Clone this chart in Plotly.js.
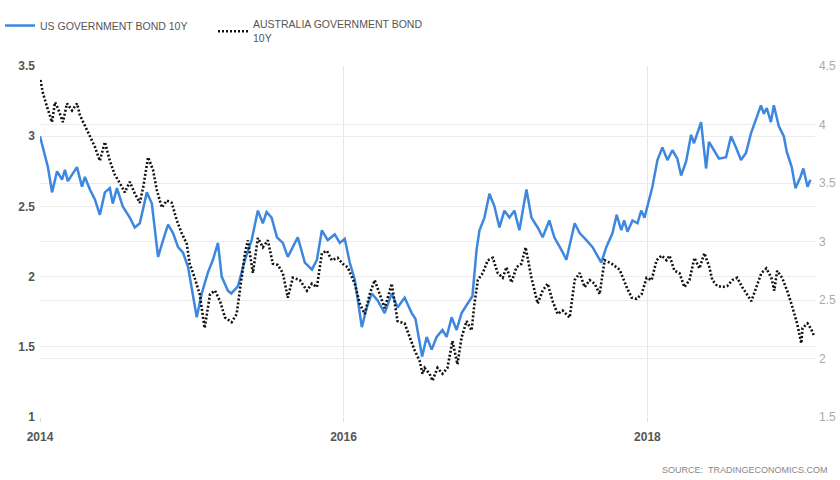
<!DOCTYPE html>
<html>
<head>
<meta charset="utf-8">
<script src="https://cdn.plot.ly/plotly-3.0.1.min.js"></script>
<style>
html,body{margin:0;padding:0;background:#fff;}
#chart{width:840px;height:480px;}
</style>
</head>
<body>
<div id="chart"></div>
<script>
// US Government Bond 10Y (left axis, %)
var usDates = ["2014-01-01","2014-01-13","2014-01-20","2014-01-30","2014-02-11","2014-02-23","2014-03-02","2014-03-09","2014-03-31","2014-04-12","2014-04-19","2014-05-01","2014-05-13","2014-05-25","2014-06-06","2014-06-18","2014-06-25","2014-07-05","2014-07-19","2014-08-05","2014-08-17","2014-08-29","2014-09-15","2014-09-27","2014-10-12","2014-10-24","2014-11-05","2014-11-17","2014-11-29","2014-12-11","2014-12-23","2015-01-13","2015-01-25","2015-02-09","2015-02-21","2015-03-05","2015-03-14","2015-03-29","2015-04-06","2015-04-22","2015-05-09","2015-05-25","2015-06-09","2015-06-21","2015-06-30","2015-07-12","2015-07-25","2015-08-08","2015-08-20","2015-09-01","2015-09-13","2015-09-30","2015-10-17","2015-10-29","2015-11-10","2015-11-24","2015-12-11","2015-12-23","2016-01-04","2016-01-16","2016-01-28","2016-02-14","2016-02-26","2016-03-09","2016-03-23","2016-04-09","2016-04-26","2016-05-10","2016-05-27","2016-06-13","2016-06-22","2016-07-01","2016-07-08","2016-07-19","2016-07-31","2016-08-12","2016-08-26","2016-09-05","2016-09-17","2016-09-29","2016-10-11","2016-10-26","2016-11-06","2016-11-16","2016-11-23","2016-12-05","2016-12-17","2016-12-29","2017-01-10","2017-01-22","2017-02-03","2017-02-15","2017-02-27","2017-03-16","2017-03-28","2017-04-12","2017-04-24","2017-05-10","2017-05-22","2017-06-08","2017-06-20","2017-07-10","2017-07-22","2017-08-07","2017-08-22","2017-09-12","2017-09-24","2017-10-09","2017-10-19","2017-10-30","2017-11-06","2017-11-14","2017-11-26","2017-12-08","2017-12-17","2017-12-25","2018-01-06","2018-01-13","2018-01-25","2018-02-06","2018-02-18","2018-03-02","2018-03-14","2018-03-23","2018-04-04","2018-04-16","2018-04-23","2018-05-10","2018-05-22","2018-05-29","2018-06-10","2018-06-22","2018-07-09","2018-07-21","2018-08-02","2018-08-14","2018-08-26","2018-09-07","2018-09-19","2018-10-01","2018-10-08","2018-10-15","2018-10-25","2018-11-01","2018-11-13","2018-11-25","2018-12-02","2018-12-14","2018-12-23","2019-01-04","2019-01-11","2019-01-21","2019-01-28"];
var usYield = [3.00,2.85,2.78,2.60,2.75,2.69,2.76,2.68,2.78,2.64,2.71,2.62,2.55,2.44,2.60,2.63,2.52,2.63,2.50,2.42,2.35,2.38,2.60,2.52,2.14,2.26,2.37,2.31,2.21,2.17,2.07,1.71,1.88,2.03,2.12,2.24,2.00,1.90,1.88,1.93,2.12,2.26,2.47,2.38,2.46,2.42,2.28,2.24,2.14,2.21,2.28,2.10,2.05,2.12,2.33,2.26,2.30,2.24,2.27,2.10,1.98,1.64,1.78,1.88,1.83,1.74,1.88,1.78,1.85,1.74,1.70,1.55,1.43,1.57,1.48,1.57,1.62,1.57,1.71,1.62,1.74,1.81,1.86,2.19,2.33,2.42,2.59,2.50,2.35,2.47,2.42,2.47,2.33,2.62,2.42,2.35,2.28,2.40,2.28,2.19,2.12,2.38,2.31,2.26,2.21,2.10,2.21,2.31,2.44,2.33,2.40,2.32,2.40,2.38,2.47,2.42,2.55,2.64,2.83,2.92,2.83,2.90,2.84,2.72,2.82,3.01,2.95,3.10,2.77,2.96,2.90,2.84,2.85,3.00,2.92,2.83,2.88,3.02,3.12,3.22,3.16,3.20,3.10,3.22,3.07,3.00,2.89,2.78,2.63,2.71,2.77,2.64,2.69];

// Australia Government Bond 10Y (right axis, %)
var auDates = ["2014-01-02","2014-01-08","2014-01-18","2014-01-30","2014-02-06","2014-02-13","2014-02-25","2014-03-07","2014-03-19","2014-03-31","2014-04-07","2014-04-19","2014-05-01","2014-05-13","2014-05-25","2014-06-06","2014-06-18","2014-06-30","2014-07-12","2014-07-24","2014-08-05","2014-08-17","2014-08-29","2014-09-06","2014-09-18","2014-09-30","2014-10-09","2014-10-21","2014-11-02","2014-11-14","2014-11-26","2014-12-08","2014-12-20","2014-12-27","2015-01-08","2015-01-20","2015-02-01","2015-02-14","2015-02-26","2015-03-10","2015-03-22","2015-04-07","2015-04-19","2015-04-27","2015-05-09","2015-05-16","2015-05-28","2015-06-09","2015-06-21","2015-07-03","2015-07-15","2015-07-27","2015-08-08","2015-08-20","2015-09-01","2015-09-18","2015-10-05","2015-10-17","2015-10-29","2015-11-10","2015-11-22","2015-12-04","2015-12-18","2015-12-30","2016-01-11","2016-01-28","2016-02-09","2016-02-21","2016-03-04","2016-03-16","2016-03-28","2016-04-09","2016-04-26","2016-05-10","2016-05-27","2016-06-08","2016-06-20","2016-07-02","2016-07-09","2016-07-14","2016-07-26","2016-08-02","2016-08-14","2016-08-26","2016-09-07","2016-09-19","2016-10-01","2016-10-11","2016-10-23","2016-11-04","2016-11-11","2016-11-19","2016-12-01","2016-12-13","2016-12-25","2017-01-06","2017-01-18","2017-01-27","2017-02-08","2017-02-20","2017-03-04","2017-03-14","2017-03-28","2017-04-12","2017-04-24","2017-05-06","2017-05-18","2017-05-30","2017-06-11","2017-06-28","2017-07-10","2017-07-22","2017-08-03","2017-08-15","2017-08-27","2017-09-08","2017-09-20","2017-10-07","2017-10-26","2017-11-12","2017-11-24","2017-12-06","2017-12-18","2017-12-30","2018-01-11","2018-01-23","2018-02-04","2018-02-16","2018-02-23","2018-03-07","2018-03-19","2018-03-31","2018-04-12","2018-04-24","2018-05-06","2018-05-18","2018-05-30","2018-06-06","2018-06-18","2018-06-30","2018-07-12","2018-07-24","2018-08-05","2018-08-17","2018-08-29","2018-09-08","2018-09-20","2018-10-02","2018-10-14","2018-10-26","2018-11-02","2018-11-09","2018-11-21","2018-12-03","2018-12-13","2018-12-20","2018-12-27","2019-01-06","2019-01-09","2019-01-21","2019-01-30","2019-02-06"];
var auYield = [4.38,4.27,4.15,4.02,4.19,4.14,4.02,4.18,4.12,4.18,4.08,3.99,3.91,3.81,3.69,3.85,3.69,3.57,3.50,3.42,3.51,3.41,3.33,3.46,3.72,3.61,3.44,3.29,3.35,3.33,3.18,3.07,2.98,2.81,2.69,2.55,2.26,2.55,2.58,2.49,2.35,2.31,2.38,2.58,2.90,3.01,2.73,3.03,2.95,3.01,2.81,2.80,2.73,2.52,2.69,2.67,2.58,2.64,2.61,2.90,2.92,2.84,2.86,2.81,2.78,2.64,2.47,2.38,2.55,2.67,2.55,2.43,2.64,2.32,2.30,2.18,2.07,1.98,1.87,1.92,1.87,1.81,1.92,1.87,1.92,2.15,1.95,2.18,2.32,2.24,2.47,2.67,2.73,2.84,2.86,2.73,2.69,2.78,2.65,2.78,2.81,2.95,2.69,2.47,2.58,2.64,2.49,2.38,2.41,2.35,2.67,2.73,2.61,2.67,2.64,2.55,2.84,2.81,2.76,2.61,2.52,2.51,2.55,2.69,2.67,2.84,2.88,2.84,2.88,2.75,2.73,2.61,2.67,2.86,2.77,2.90,2.78,2.67,2.62,2.61,2.62,2.67,2.69,2.61,2.55,2.49,2.61,2.73,2.77,2.69,2.58,2.75,2.69,2.58,2.47,2.38,2.30,2.13,2.26,2.30,2.25,2.19];

var seriesNames = ["US GOVERNMENT BOND 10Y", "AUSTRALIA GOVERNMENT BOND<br>10Y"];
var xTickVals = ["2014-01-01", "2016-01-01", "2018-01-01"];
var xTickText = ["2014", "2016", "2018"];
var sourceText = "SOURCE:&nbsp;&nbsp;TRADINGECONOMICS.COM";

var traces = [
  {x: usDates, y: usYield, name: seriesNames[0], type: "scatter", mode: "lines",
   line: {color: "#3d87de", width: 2.5}, yaxis: "y"},
  {x: auDates, y: auYield, name: seriesNames[1], type: "scatter", mode: "lines",
   line: {color: "#111111", width: 2.6, dash: "2px,2px"}, yaxis: "y2"}
];

var layout = {
  width: 840, height: 480,
  paper_bgcolor: "#ffffff", plot_bgcolor: "#ffffff",
  margin: {l: 40, r: 25, t: 66, b: 63},
  font: {family: "Liberation Sans, Arial, sans-serif", color: "#444"},
  showlegend: true,
  legend: {orientation: "h", xref: "container", yref: "container", x: 0.0, y: 0.977, xanchor: "left", yanchor: "top",
           font: {size: 10.5, color: "#555"}, bgcolor: "rgba(0,0,0,0)", itemwidth: 30, traceorder: "normal",
           entrywidth: 168, entrywidthmode: "pixels"},
  xaxis: {type: "date", range: ["2014-01-01", "2019-02-08"], tickmode: "array", tickvals: xTickVals, ticktext: xTickText,
          showgrid: true, gridcolor: "#e6e6e6", gridwidth: 1, zeroline: false, showline: false,
          ticks: "outside", ticklen: 4, tickcolor: "#dddddd", ticklabelstandoff: 5,
          tickfont: {size: 12, color: "#555", weight: "bold", family: "Liberation Sans Narrow, Liberation Sans, Arial, sans-serif"}},
  yaxis: {range: [1, 3.5], dtick: 0.5, tick0: 1, showgrid: true, gridcolor: "#ececec", zeroline: false,
          showline: false, ticks: "", tickfont: {size: 12, color: "#555", weight: "bold"}, ticklabelstandoff: 4},
  yaxis2: {range: [1.5, 4.5], dtick: 0.5, tick0: 1.5, overlaying: "y", side: "right", showgrid: true,
           gridcolor: "#ececec", zeroline: false, showline: false, ticks: "",
           tickfont: {size: 12, color: "#aaaaaa"}, ticklabelstandoff: 3},
  annotations: [
    {xref: "paper", yref: "paper", x: 1, y: -0.151, xanchor: "right", yanchor: "middle", xshift: 15,
     text: sourceText, showarrow: false, font: {size: 9, color: "#888"}}
  ]
};

Plotly.newPlot("chart", traces, layout, {staticPlot: true, displayModeBar: false});
</script>
</body>
</html>
